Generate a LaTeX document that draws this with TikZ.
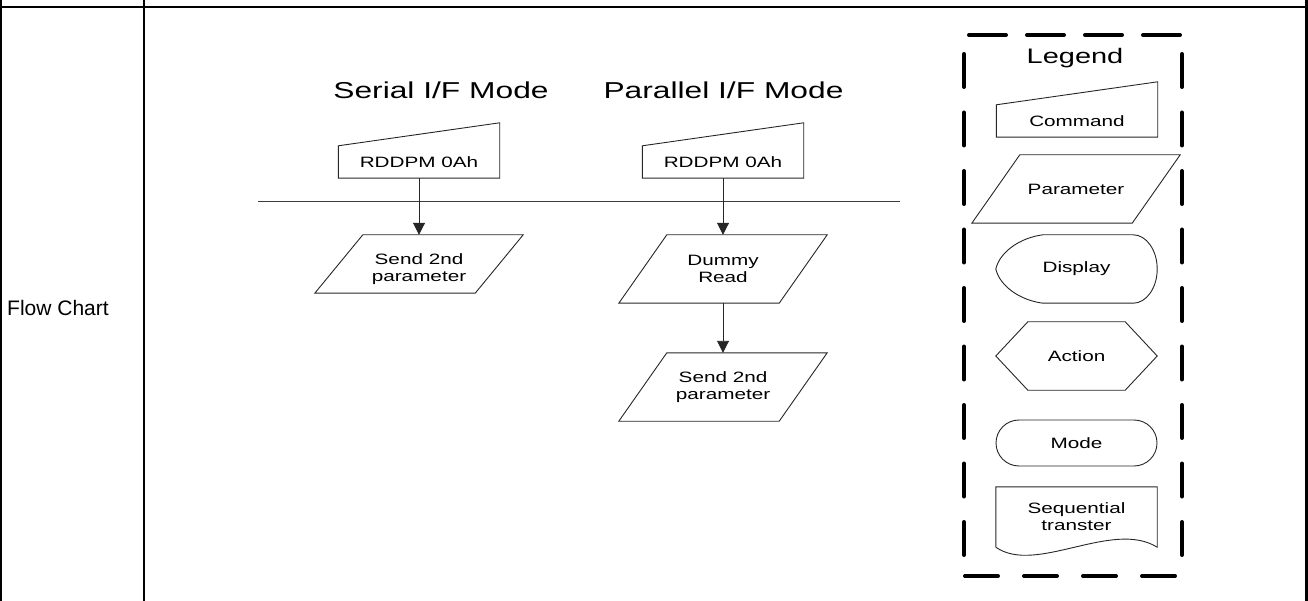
\documentclass[tikz,border=0pt]{standalone}
\usepackage{fontspec}
\setmainfont{Liberation Sans}
\newfontfamily\flowfont[FakeStretch=1.38]{Liberation Sans}
\usepackage{tikz}
\usetikzlibrary{calc,arrows.meta}
\definecolor{fcgray}{RGB}{38,38,38}
\definecolor{fcrule}{RGB}{60,60,60}

\tikzset{
    outline/.style={draw=fcgray, line width=0.9pt, line join=miter},
    lbl/.style={font={\flowfont\fontsize{15}{17}\selectfont}, align=center, inner sep=0pt},
    cmd/.style={lbl, minimum width=161, minimum height=32},
    para/.style={lbl, minimum width=208, minimum height=68},
    legshape/.style={lbl, minimum width=161, minimum height=68},
    modetitle/.style={font={\flowfont\fontsize{23}{27}\selectfont}, inner sep=0pt, anchor=base},
    flowarrow/.style={draw=fcgray, line width=0.9pt, -{Triangle[length=12pt,width=12pt]}},
    legdash/.style={line width=4pt, line cap=round},
}

% outlines drawn round a named node
\newcommand{\cmdoutline}[1]{%
    \draw[outline] (#1.south west) -- (#1.south east) -- ($(#1.north east)+(0,-23)$)
        -- (#1.north west) -- cycle;}
% optional arg: how far the bottom edge sits above the node's south side
\newcommand{\paraoutline}[2][0]{%
    \draw[outline] ($(#2.north west)+(48,0)$) -- (#2.north east) -- ($(#2.south east)+(-48,-#1)$)
        -- ($(#2.south west)+(0,-#1)$) -- cycle;}

\begin{document}
\begin{tikzpicture}[x=1pt,y=-1pt]
    \useasboundingbox (0,0) rectangle (1308,601);

    % table rules
    \draw[line width=2pt] (0,6.7)--(1308,6.7);
    \draw[line width=2pt] (1,0)--(1,601);
    \draw[line width=2pt] (144.3,0)--(144.3,601);
    \draw[line width=3pt] (1306.5,0)--(1306.5,601);
    \node[anchor=base west, font=\fontsize{21}{25}\selectfont, inner sep=0pt] (rowlabel) at (7,316) {Flow Chart};

    % interface line
    \draw[fcrule, line width=0.9pt] (258,201)--(900,201);

    % serial mode
    \node[modetitle] (sertitle) at (441,99) {Serial I/F Mode};
    \node[cmd] (sercmd) at (419,162) {RDDPM 0Ah};
    \node[para] (serpar) at (419,269) {Send 2nd\\parameter};
    \cmdoutline{sercmd}
    \paraoutline[10]{serpar}
    \draw[flowarrow] (sercmd)--(serpar);

    % parallel mode
    \node[modetitle] (partitle) at (723.5,99) {Parallel I/F Mode};
    \node[cmd] (parcmd) at (723,162) {RDDPM 0Ah};
    \node[para] (pardummy) at (723,269) {Dummy\\Read};
    \node[para] (parsend) at (723,387) {Send 2nd\\parameter};
    \cmdoutline{parcmd}
    \paraoutline{pardummy}
    \paraoutline{parsend}
    \draw[flowarrow] (parcmd)--(pardummy);
    \draw[flowarrow] (pardummy)--(parsend);

    % legend frame
    \draw[legdash, dash pattern=on 37pt off 21pt] (969,35)--(1180,35);
    \draw[legdash, dash pattern=on 33pt off 26pt] (965,576)--(1176,576);
    \draw[legdash, dash pattern=on 33pt off 25.5pt] (964,54)--(964,556);
    \draw[legdash, dash pattern=on 33pt off 25.5pt] (1182,54)--(1182,556);
    \node[font={\flowfont\fontsize{21}{25}\selectfont}, inner sep=0pt, anchor=base] (legtitle) at (1075,64) {Legend};

    % legend shapes
    \node[cmd] (legcmd) at (1077,121) {Command};
    \cmdoutline{legcmd}
    \node[para] (legpar) at (1076,189) {Parameter};
    \paraoutline{legpar}
    \node[legshape] (legdisp) at (1076.5,269) {Display};
    \draw[outline] (legdisp.west) .. controls ($(legdisp.west)+(4,-17)$) and ($(legdisp.north west)+(24,3)$) .. ($(legdisp.north west)+(47,0)$)
        -- ($(legdisp.north east)+(-24,0)$) .. controls ($(legdisp.north east)+(-11,0)$) and ($(legdisp.east)+(0,-19)$) .. (legdisp.east)
        .. controls ($(legdisp.east)+(0,19)$) and ($(legdisp.south east)+(-11,0)$) .. ($(legdisp.south east)+(-24,0)$)
        -- ($(legdisp.south west)+(47,0)$) .. controls ($(legdisp.south west)+(24,-3)$) and ($(legdisp.west)+(4,17)$) .. (legdisp.west);
    \node[legshape] (legact) at (1076.5,356) {Action};
    \draw[outline] (legact.west) -- ($(legact.north west)+(32,0)$) -- ($(legact.north east)+(-32,0)$) -- (legact.east)
        -- ($(legact.south east)+(-32,0)$) -- ($(legact.south west)+(32,0)$) -- cycle;
    \node[lbl, outline, rounded corners=23pt, minimum width=161, minimum height=46] (legmode) at (1076.5,443) {Mode};
    \node[legshape, minimum height=60] (legdoc) at (1076.5,517) {Sequential\\transter};
    \draw[outline] (legdoc.south west) -- (legdoc.north west) -- (legdoc.north east) -- (legdoc.south east)
        .. controls ($(legdoc.south east)+(-45,-28)$) and ($(legdoc.south west)+(40,28)$) .. (legdoc.south west);
\end{tikzpicture}
\end{document}
